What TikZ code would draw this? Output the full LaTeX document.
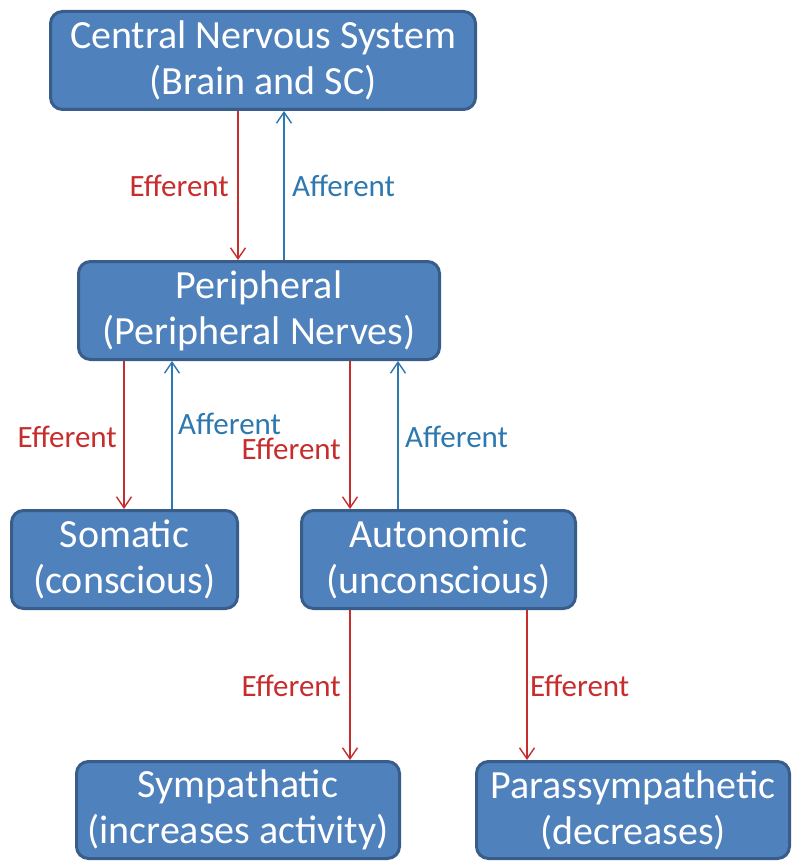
\documentclass[tikz,border=0pt]{standalone}
\usepackage{fontspec}
\setmainfont{Carlito}
\usetikzlibrary{arrows.meta}
\definecolor{boxfill}{HTML}{4F81BD}
\definecolor{boxline}{HTML}{385D8A}
\definecolor{effred}{RGB}{200,45,45}
\definecolor{affblue}{RGB}{45,120,175}
\begin{document}
\begin{tikzpicture}[x=1pt,y=-1pt,
  box/.style={draw=boxline, fill=boxfill, line width=3pt, rounded corners=12pt,
    text=white, align=center, inner sep=0pt,
    font=\fontsize{40}{46}\selectfont},
  link/.style={line width=1.4pt, -{Straight Barb[length=11pt,width=15pt,line width=1.4pt]}},
  eff/.style={link, draw=effred},
  aff/.style={link, draw=affblue},
  efflabel/.style={text=effred, inner sep=0pt, font=\fontsize{31}{36}\selectfont},
  afflabel/.style={text=affblue, inner sep=0pt, font=\fontsize{31}{36}\selectfont}]
\useasboundingbox (0,0) rectangle (793,861);

% boxes
\node[box, minimum width=425pt, minimum height=98pt] (cns) at (263,60.5) {Central Nervous System\\(Brain and SC)};
\node[box, minimum width=361pt, minimum height=98pt] (per) at (259,310.5) {Peripheral\\(Peripheral Nerves)};
\node[box, minimum width=226pt, minimum height=98pt] (som) at (124.5,559.5) {Somatic\\(conscious)};
\node[box, minimum width=274pt, minimum height=98pt] (aut) at (438.5,559.5) {Autonomic\\(unconscious)};
\node[box, minimum width=323pt, minimum height=97pt] (sym) at (238,810) {Sympathatic\\(increases activity)};
\node[box, minimum width=313pt, minimum height=97pt] (par) at (633,810) {Parassympathetic\\(decreases)};

% vertical tracks of the connectors
\coordinate (t1) at (238,0);
\coordinate (t2) at (284,0);
\coordinate (t3) at (124,0);
\coordinate (t4) at (172,0);
\coordinate (t5) at (350,0);
\coordinate (t6) at (398,0);
\coordinate (t7) at (527,0);

% connectors
\draw[eff] (cns.south -| t1) -- (per.north -| t1);
\draw[aff] (per.north -| t2) -- (cns.south -| t2);
\draw[eff] (per.south -| t3) -- (som.north -| t3);
\draw[aff] (som.north -| t4) -- (per.south -| t4);
\draw[eff] (per.south -| t5) -- (aut.north -| t5);
\draw[aff] (aut.north -| t6) -- (per.south -| t6);
\draw[eff] (aut.south -| t5) -- (sym.north -| t5);
\draw[eff] (aut.south -| t7) -- (par.north -| t7);

% connector labels
\node[efflabel, anchor=east] (l1) at (229,186) {Efferent};
\node[afflabel, anchor=west] (l2) at (292,186) {Afferent};
\node[efflabel, anchor=east] (l3) at (117,437) {Efferent};
\node[afflabel, anchor=west] (l4) at (178,424) {Afferent};
\node[efflabel, anchor=east] (l5) at (341,449) {Efferent};
\node[afflabel, anchor=west] (l6) at (405,437) {Afferent};
\node[efflabel, anchor=east] (l7) at (341,686) {Efferent};
\node[efflabel, anchor=west] (l8) at (530,686) {Efferent};
\end{tikzpicture}
\end{document}
